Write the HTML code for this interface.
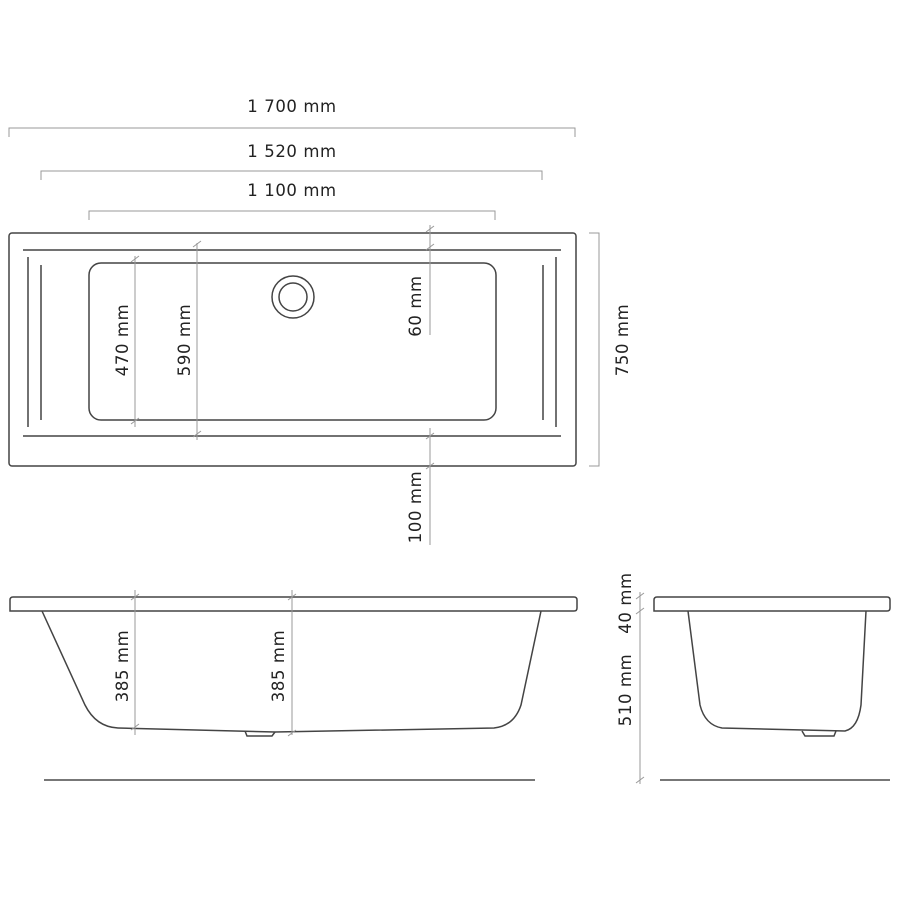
<!DOCTYPE html>
<html><head><meta charset="utf-8"><style>html,body{margin:0;background:#fff}svg{display:block}</style></head><body>
<svg width="900" height="900" viewBox="0 0 900 900" xmlns="http://www.w3.org/2000/svg" font-family="DejaVu Sans, Liberation Sans, sans-serif" font-size="16" fill="none">
<g stroke="#444" stroke-width="1.5">
<rect x="9" y="233" width="567" height="233" rx="3"/>
<line x1="23" y1="250" x2="561" y2="250"/><line x1="23" y1="436" x2="561" y2="436"/>
<line x1="28" y1="257" x2="28" y2="427"/><line x1="41" y1="265" x2="41" y2="420"/>
<line x1="543" y1="265" x2="543" y2="420"/><line x1="556" y1="257" x2="556" y2="427"/>
<rect x="89" y="263" width="407" height="157" rx="12"/>
<circle cx="293" cy="297" r="21"/><circle cx="293" cy="297" r="14"/>
<path d="M10 611 L10 600 Q10 597 13 597 L574 597 Q577 597 577 600 L577 608 Q577 611 574 611 Z"/>
<path d="M42 611 L85 705 Q96 727 118 728 L275 732 L494 728 Q514 726 521 705 L541 611"/>
<path d="M245 731 L247 736 L272 736 L275 732"/>
<path d="M654 611 L654 600 Q654 597 657 597 L887 597 Q890 597 890 600 L890 608 Q890 611 887 611 Z"/>
<path d="M688 611 L700 705 Q705 725 722 728 L845 731 Q858 728 861 705 L866 611"/>
<path d="M802 731 L805 736 L834 736 L836 731"/>
</g>
<g stroke="#777" stroke-width="2"><line x1="44" y1="780" x2="535" y2="780"/><line x1="660" y1="780" x2="890" y2="780"/></g>
<g stroke="#999" stroke-width="1">
<path d="M9 137 V128 H575 V137"/><path d="M41 180 V171 H542 V180"/><path d="M89 220 V211 H495 V220"/>
<path d="M589 233 H599 V466 H589"/>
<line x1="135" y1="256" x2="135" y2="427"/><line x1="197" y1="243" x2="197" y2="440"/>
<line x1="430" y1="225" x2="430" y2="335"/><line x1="430" y1="428" x2="430" y2="545"/>
<line x1="135" y1="590" x2="135" y2="735"/><line x1="292" y1="590" x2="292" y2="735"/>
<line x1="640" y1="592" x2="640" y2="784"/>
<path d="M131 262 l8 -6 M131 424 l8 -6 M193 247 l8 -6 M193 437 l8 -6 M426 232 l8 -6 M426 250 l8 -6 M426 439 l8 -6 M426 469 l8 -6 M131 600 l8 -6 M131 730 l8 -6 M288 600 l8 -6 M288 736 l8 -6 M636 599 l8 -6 M636 614 l8 -6 M636 783 l8 -6"/>
</g>
<g fill="#222" text-anchor="middle" font-size="16.5" letter-spacing="0.6">
<text x="292" y="112">1 700  mm</text>
<text x="292" y="157">1 520 mm</text>
<text x="292" y="196">1 100 mm</text>
<text transform="translate(128,340) rotate(-90)">470 mm</text>
<text transform="translate(190,340) rotate(-90)">590 mm</text>
<text transform="translate(421,306) rotate(-90)">60 mm</text>
<text transform="translate(421,507) rotate(-90)">100 mm</text>
<text transform="translate(628,340) rotate(-90)">750 mm</text>
<text transform="translate(128,666) rotate(-90)">385 mm</text>
<text transform="translate(284,666) rotate(-90)">385 mm</text>
<text transform="translate(631,603) rotate(-90)">40 mm</text>
<text transform="translate(631,690) rotate(-90)">510 mm</text>
</g>
</svg>
</body></html>
